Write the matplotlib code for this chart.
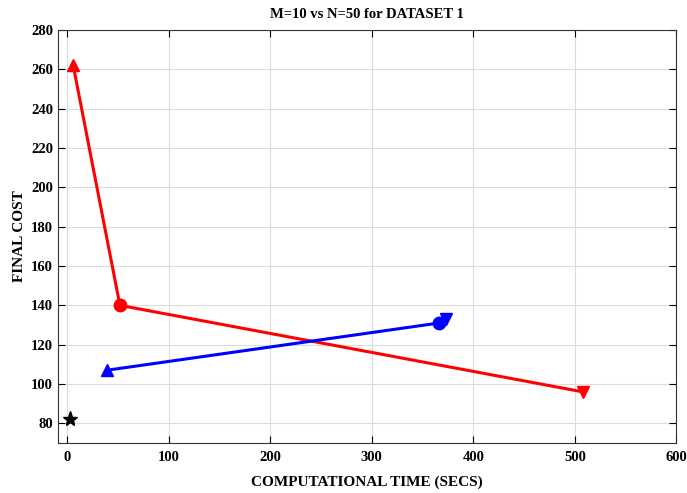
import matplotlib.pyplot as plt

# red series (M=10)
red_x = [6, 52, 508]
red_y = [262, 140, 96]
red_markers = ["^", "o", "v"]

# blue series (N=50)
blue_x = [39, 366, 373]
blue_y = [107, 131, 133]
blue_markers = ["^", "o", "v"]

star_x = [3]
star_y = [82]

plt.rcParams["font.family"] = ["Liberation Serif", "DejaVu Serif"]
plt.rcParams["font.weight"] = "bold"

fig = plt.figure(figsize=(6.87, 4.93), dpi=100)
ax = fig.add_axes([0.0844, 0.1014, 0.9000, 0.8377])

ax.plot(red_x, red_y, color="red", lw=2.2)
for x, y, m in zip(red_x, red_y, red_markers):
    ax.plot(x, y, marker=m, color="red", ms=9, ls="none")

ax.plot(blue_x, blue_y, color="blue", lw=2.2)
for x, y, m in zip(blue_x, blue_y, blue_markers):
    ax.plot(x, y, marker=m, color="blue", ms=9, ls="none")

ax.plot(star_x, star_y, marker="*", color="black", ms=11, ls="none")

ax.set_xlim(-9, 600)
ax.set_ylim(70, 280)
ax.set_xticks(range(0, 601, 100))
ax.set_yticks(range(80, 281, 20))
ax.grid(True, color="#dcdcdc", lw=0.8)
ax.set_axisbelow(True)
ax.tick_params(direction="in", length=5, labelsize=10.5, width=0.8,
               top=True, right=True)
ax.tick_params(axis="x", pad=6)
for s in ax.spines.values():
    s.set_linewidth(0.8)
    s.set_color("#333333")
for lab in ax.get_xticklabels() + ax.get_yticklabels():
    lab.set_fontweight("bold")

ax.set_xlabel("COMPUTATIONAL TIME (SECS)", fontsize=11, fontweight="bold", labelpad=8)
ax.set_ylabel("FINAL COST", fontsize=11, fontweight="bold")
ax.set_title("M=10 vs N=50 for DATASET 1", fontsize=10.5, fontweight="bold", pad=9)

fig.savefig("out.png", dpi=100)
